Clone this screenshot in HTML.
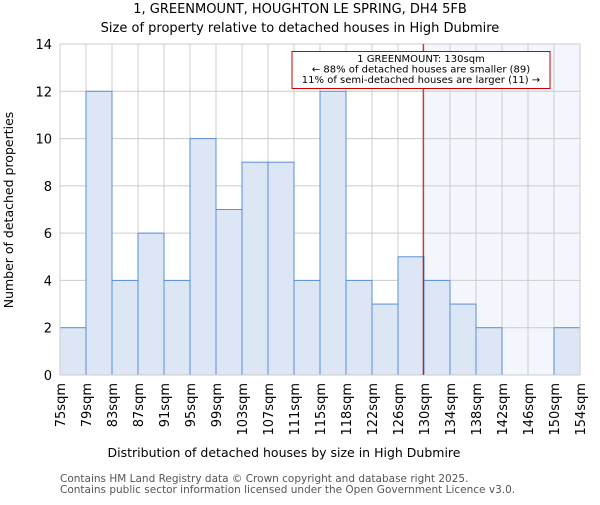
<!DOCTYPE html>
<html><head><meta charset="utf-8"><style>body{margin:0;background:#fff}svg{font-family:"DejaVu Sans","Liberation Sans",sans-serif}</style></head>
<body>
<svg width="600" height="500" viewBox="0 0 600 500">
<text x="300" y="13" font-size="13" text-anchor="middle">1, GREENMOUNT, HOUGHTON LE SPRING, DH4 5FB</text>
<text x="300" y="32" font-size="13" text-anchor="middle">Size of property relative to detached houses in High Dubmire</text>
<g id="plot"></g>
<text x="284" y="457" font-size="12.5" text-anchor="middle">Distribution of detached houses by size in High Dubmire</text>
<text transform="translate(13,210) rotate(-90)" font-size="12.5" text-anchor="middle">Number of detached properties</text>
<text x="60" y="482" font-size="10.5" fill="#555">Contains HM Land Registry data © Crown copyright and database right 2025.</text>
<text x="60" y="493" font-size="10.5" fill="#555">Contains public sector information licensed under the Open Government Licence v3.0.</text>
</svg>
<script>
const categories=["75sqm","79sqm","83sqm","87sqm","91sqm","95sqm","99sqm","103sqm","107sqm","111sqm","115sqm","118sqm","122sqm","126sqm","130sqm","134sqm","138sqm","142sqm","146sqm","150sqm","154sqm"];
const counts=[2,12,4,6,4,10,7,9,9,4,12,4,3,5,4,3,2,0,0,2];
const yTicks=[0,2,4,6,8,10,12,14];
const markerIndex=13.97;
const NS="http://www.w3.org/2000/svg";
const g=document.getElementById('plot');
const L=60,R=580,T=44,B=375,yMax=14;
const bw=(R-L)/counts.length;
const x=i=>L+i*bw;
const y=v=>B-(v/yMax)*(B-T);
function mk(t,a){const e=document.createElementNS(NS,t);for(const k in a)e.setAttribute(k,a[k]);g.appendChild(e);return e;}
let e;
e=mk('rect',{x:x(markerIndex),y:T,width:R-x(markerIndex),height:B-T,fill:'#f3f6fc'});


yTicks.forEach(t=>{
 e=mk('line',{x1:L,x2:R,y1:y(t),y2:y(t),stroke:'#ccc','stroke-width':1});
 
 
 e=mk('text',{x:L-8,y:y(t)+5,'font-size':13,'text-anchor':'end'});e.textContent=t;
 
 
});
categories.forEach((c,i)=>{
 e=mk('line',{x1:x(i),x2:x(i),y1:T,y2:B,stroke:'#ccc','stroke-width':1});
 
 
 e=mk('text',{transform:`translate(${x(i)+5},${B+8}) rotate(-90)`,'font-size':13,'text-anchor':'end'});e.textContent=c;
 
 
});
counts.forEach((v,i)=>{
 if(v<=0)return;
 e=mk('rect',{x:x(i),y:y(v),width:bw,height:y(0)-y(v),fill:'#dce6f4',stroke:'#5a8fd6','stroke-width':1});
 
 
});
e=mk('rect',{x:L,y:T,width:R-L,height:B-T,fill:'none',stroke:'#ccc'});


e=mk('line',{x1:x(markerIndex),x2:x(markerIndex),y1:T,y2:B,stroke:'#cc0000','stroke-width':1});


e=mk('rect',{x:292,y:51.5,width:258,height:37,fill:'#fff',stroke:'#cc0000','stroke-width':1});


["1 GREENMOUNT: 130sqm","← 88% of detached houses are smaller (89)","11% of semi-detached houses are larger (11) →"].forEach((s,k)=>{
 e=mk('text',{x:421,y:62+k*10.5,'font-size':10,'text-anchor':'middle'});e.textContent=s;
 
 
});
</script>
</body></html>
